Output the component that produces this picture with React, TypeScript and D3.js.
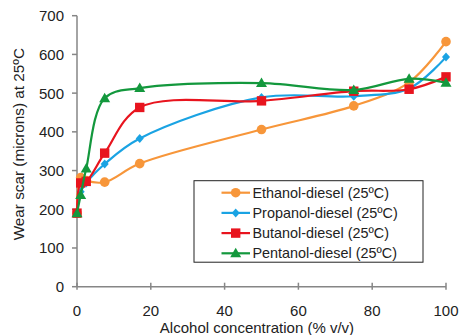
import React from "react";
import * as d3 from "d3";

const concentrations = [0, 1, 2.5, 7.5, 17, 50, 75, 90, 100];
const ethanol = [190, 282, 274, 270, 318, 406, 467, 528, 633];
const propanol = [190, 245, 268, 317, 383, 489, 492, 512, 593];
const butanol = [190, 268, 272, 345, 463, 480, 505, 510, 542];
const pentanol = [190, 237, 305, 487, 513, 526, 508, 537, 527];
const xTicks = [0, 20, 40, 60, 80, 100];
const yTicks = [0, 100, 200, 300, 400, 500, 600, 700];

const series = [
  { name: "Ethanol-diesel (25ºC)", values: ethanol, color: "#F7963A", marker: "circle" },
  { name: "Propanol-diesel (25ºC)", values: propanol, color: "#1AA3E3", marker: "diamond" },
  { name: "Butanol-diesel (25ºC)", values: butanol, color: "#E8141E", marker: "square" },
  { name: "Pentanol-diesel (25ºC)", values: pentanol, color: "#13983D", marker: "triangle" },
];

const Marker = ({ type, x, y, color }: { type: string; x: number; y: number; color: string }) => {
  if (type === "circle") return <circle cx={x} cy={y} r={4.8} fill={color} />;
  if (type === "square") return <rect x={x - 4.7} y={y - 4.7} width={9.4} height={9.4} fill={color} />;
  if (type === "diamond")
    return <path d={`M${x},${y - 4.5}L${x + 4},${y}L${x},${y + 4.5}L${x - 4},${y}Z`} fill={color} />;
  return <path d={`M${x},${y - 5.5}L${x + 5.5},${y + 4}L${x - 5.5},${y + 4}Z`} fill={color} />;
};

const App = () => {
  const width = 462;
  const height = 335;
  const x = d3.scaleLinear().domain([0, 100]).range([77, 446]);
  const y = d3.scaleLinear().domain([0, 700]).range([286.7, 15.7]);
  const line = d3
    .line<number>()
    .x((d, i) => x(concentrations[i]))
    .y((d) => y(d))
    .curve(d3.curveCatmullRom.alpha(0.5));
  const axisColor = "#868686";
  const font = "'Liberation Sans', Arial, sans-serif";

  const legX = 194;
  const legY = 180.7;
  const rowGap = 20.2;

  return (
    <svg width={width} height={height} style={{ position: "absolute", left: 0, top: 0 }}>
      <rect width={width} height={height} fill="#fff" />
      {/* axes */}
      <line x1={x(0)} x2={x(0)} y1={y(700)} y2={y(0)} stroke={axisColor} strokeWidth={1.5} />
      <line x1={x(0)} x2={x(100)} y1={y(0)} y2={y(0)} stroke={axisColor} strokeWidth={1.5} />
      {yTicks.map((t) => (
        <g key={"y" + t}>
          <line x1={x(0) - 5} x2={x(0)} y1={y(t)} y2={y(t)} stroke={axisColor} strokeWidth={1.5} />
          <text x={64} y={y(t)} dy="0.36em" textAnchor="end" fontFamily={font} fontSize={15} fill="#222">
            {t}
          </text>
        </g>
      ))}
      {xTicks.map((t) => (
        <g key={"x" + t}>
          <line x1={x(t)} x2={x(t)} y1={y(0) - 4} y2={y(0) + 3} stroke={axisColor} strokeWidth={1.5} />
          <text x={x(t)} y={310.5} dy="0.36em" textAnchor="middle" fontFamily={font} fontSize={15} fill="#222">
            {t}
          </text>
        </g>
      ))}
      <text x={257} y={327.3} dy="0.36em" textAnchor="middle" fontFamily={font} fontSize={15} fill="#222">
        Alcohol concentration (% v/v)
      </text>
      <text
        transform={`translate(18,${y(350) - 7}) rotate(-90)`}
        dy="0.36em"
        textAnchor="middle"
        fontFamily={font}
        fontSize={15.3}
        fill="#222"
      >
        Wear scar (microns) at 25ºC
      </text>

      {series.map((s) => (
        <g key={s.name}>
          <path d={line(s.values) || ""} fill="none" stroke={s.color} strokeWidth={2.2} />
          {s.values.map((v, i) => (
            <Marker key={i} type={s.marker} x={x(concentrations[i])} y={y(v)} color={s.color} />
          ))}
        </g>
      ))}

      {/* legend */}
      <rect x={legX} y={legY} width={229} height={81.5} fill="#fff" stroke="#222" strokeWidth={1} />
      {series.map((s, i) => {
        const ry = legY + 12 + i * rowGap;
        return (
          <g key={"leg" + s.name}>
            <line x1={221.5} x2={250} y1={ry} y2={ry} stroke={s.color} strokeWidth={2.2} />
            <Marker type={s.marker} x={235.7} y={ry} color={s.color} />
            <text x={252.5} y={ry} dy="0.36em" fontFamily={font} fontSize={14.4} fill="#222">
              {s.name}
            </text>
          </g>
        );
      })}
    </svg>
  );
};

export default App;
